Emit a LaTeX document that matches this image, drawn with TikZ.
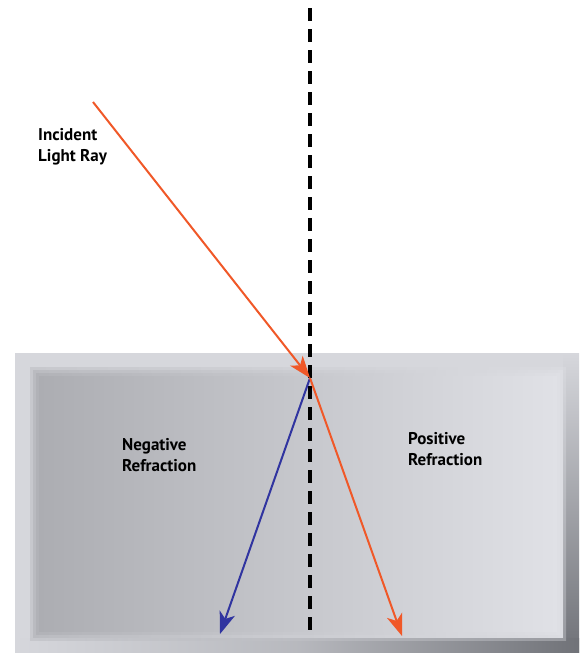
\documentclass[tikz,border=0pt]{standalone}
\usepackage{fontspec}
\setsansfont{PT Sans}
\usetikzlibrary{arrows.meta}
\definecolor{rayred}{RGB}{240,88,40}
\definecolor{rayblue}{RGB}{48,52,160}
\definecolor{slabedge}{RGB}{214,215,220}
\definecolor{slabdark}{RGB}{172,173,178}
\definecolor{slablight}{RGB}{224,225,230}
\definecolor{slabshade}{RGB}{112,114,120}
\tikzset{
  lbl/.style  ={font=\sffamily\bfseries\fontsize{17}{21}\selectfont, align=left, inner sep=0pt, anchor=north west},
  ray/.style  ={line width=2pt, -{Stealth[length=22pt, width=16pt, inset=6pt]}},
  normal/.style={line width=3.6pt, dash pattern=on 13pt off 8pt, black},
}

\begin{document}
\begin{tikzpicture}[x=1pt, y=-1pt]
  \useasboundingbox (0,0) rectangle (579,653);

  % --- slab -----------------------------------------------------------
  \fill[slabedge] (15,353) rectangle (579,653);
  \shade[top color=slabedge, bottom color=slabshade] (563,353) rectangle (579,653);
  \shade[left color=slabedge, right color=slabshade, middle color=slabedge!70!slabshade]
    (15,638) rectangle (579,653);
  \foreach \d/\o in {0/0.35, 3/0.45, 6/0.6, 9/1}
    \shade[left color=slabdark, right color=slablight, opacity=\o]
      (30+\d,367+\d) rectangle (566-\d,640-\d);

  % --- rays -----------------------------------------------------------
  \coordinate (src)    at (93,102);
  \coordinate (hit)    at (310,378);
  \coordinate (negend) at (220,634);
  \coordinate (posend) at (402,636);
  \coordinate (ntop)   at (310,8);
  \coordinate (nbot)   at (310,636);

  \draw[normal] (ntop) -- (nbot);
  \draw[ray, rayred]  (src) -- (hit);
  \draw[ray, rayblue] (hit) -- (negend);
  \draw[ray, rayred]  (hit) -- (posend);

  % --- labels ---------------------------------------------------------
  \node[lbl] (inc) at (38,128) {Incident\\Light Ray};
  \node[lbl] (neg) at (122,438) {Negative\\Refraction};
  \node[lbl] (pos) at (408,432) {Positive\\Refraction};
\end{tikzpicture}
\end{document}
